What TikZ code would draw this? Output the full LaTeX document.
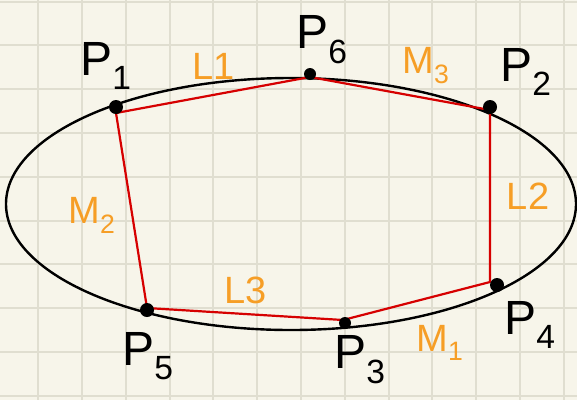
\documentclass[tikz,border=0pt]{standalone}
\usepackage{fontspec}
\setmainfont{Liberation Sans}
\definecolor{paper}{RGB}{247,245,234}
\definecolor{gridc}{RGB}{224,222,208}
\definecolor{edge}{RGB}{214,0,0}
\definecolor{lab}{RGB}{246,158,38}
\begin{document}
\begin{tikzpicture}[x=1pt,y=-1pt,
  pt/.style={circle,fill=black,inner sep=0pt,minimum size=14pt},
  plab/.style={font=\fontsize{48}{48}\selectfont,text=black,inner sep=0pt},
  olab/.style={font=\fontsize{38}{38}\selectfont,text=lab,inner sep=0pt},
  redge/.style={draw=edge,line width=2.2pt,line join=round}]
\fill[paper] (0,0) rectangle (577,400);
\useasboundingbox (0,0) rectangle (577,400);
\foreach \x in {38.2,82,125.8,169.6,213.4,257.2,301,344.8,388.6,432.4,476.2,520,563.8}
  \draw[gridc,line width=2pt] (\x,0) -- (\x,400);
\foreach \y in {1.5,45.3,89.1,132.9,176.7,220.5,264.3,308.1,351.9,395.7}
  \draw[gridc,line width=2pt] (0,\y) -- (577,\y);
\draw[black,line width=2.4pt] (291,204) ellipse [x radius=285, y radius=126];
\coordinate (v1) at (116,113);
\coordinate (v6) at (310,77);
\coordinate (v2) at (490,110);
\coordinate (v4) at (490,282);
\coordinate (v3) at (343,320);
\coordinate (v5) at (147,308);
\draw[redge] (v1) -- (v6) -- (v2) -- (v4) -- (v3) -- (v5) -- cycle;
\node[pt] (p1) at (116,107) {};
\node[pt,minimum size=12pt] (p6) at (310,74) {};
\node[pt] (p2) at (490,107) {};
\node[pt] (p4) at (497,285) {};
\node[pt,minimum size=12pt] (p3) at (345,323) {};
\node[pt] (p5) at (147,310) {};
\node[plab] (t1) at (106,66) {P\textsubscript{1}};
\node[plab] (t6) at (322,40) {P\textsubscript{6}};
\node[plab] (t2) at (526,72) {P\textsubscript{2}};
\node[plab] (t4) at (530,325) {P\textsubscript{4}};
\node[plab] (t3) at (360,360) {P\textsubscript{3}};
\node[plab] (t5) at (148,356) {P\textsubscript{5}};
\node[olab] (l1) at (214,66) {L1};
\node[olab] (m3) at (426,66) {M\textsubscript{3}};
\node[olab] (l2) at (528,196) {L2};
\node[olab] (m2) at (92,215) {M\textsubscript{2}};
\node[olab] (l3) at (246,290) {L3};
\node[olab] (m1) at (440,343) {M\textsubscript{1}};
\end{tikzpicture}
\end{document}
